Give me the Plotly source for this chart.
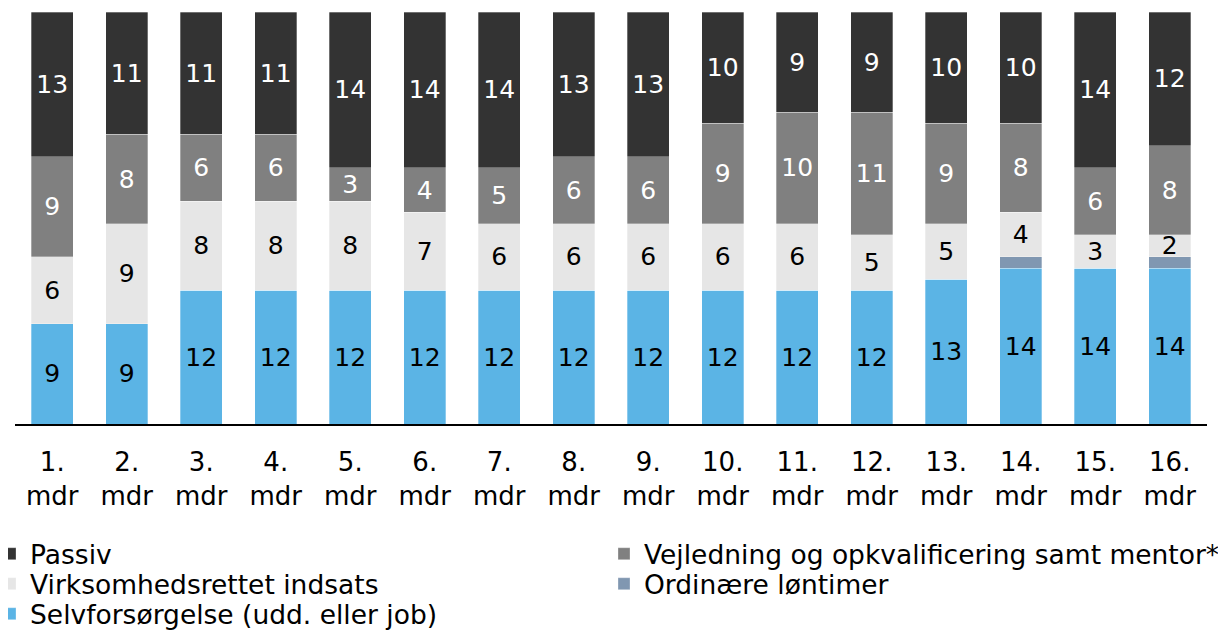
import plotly.graph_objects as go

categories = [f"{i}.<br>mdr" for i in range(1, 17)]
selvforsorgelse = [9, 9, 12, 12, 12, 12, 12, 12, 12, 12, 12, 12, 13, 14, 14, 14]
ordinaere = [0, 0, 0, 0, 0, 0, 0, 0, 0, 0, 0, 0, 0, 1, 0, 1]
virksomhed = [6, 9, 8, 8, 8, 7, 6, 6, 6, 6, 6, 5, 5, 4, 3, 2]
vejledning = [9, 8, 6, 6, 3, 4, 5, 6, 6, 9, 10, 11, 9, 8, 6, 8]
passiv = [13, 11, 11, 11, 14, 14, 14, 13, 13, 10, 9, 9, 10, 10, 14, 12]

FONT = "Verdana, DejaVu Sans, sans-serif"
FS = 26
LFS = 26.5

# name, values, colour, label colour, legend id, show labels
series = [
    ("Selvforsørgelse (udd. eller job)", selvforsorgelse, "#5bb4e5", "black", "legend5", True),
    ("Ordinære løntimer", ordinaere, "#8097b1", "black", "legend4", False),
    ("Virksomhedsrettet indsats", virksomhed, "#e6e6e6", "black", "legend3", True),
    ("Vejledning og opkvalificering samt mentor*", vejledning, "#808080", "white", "legend2", True),
    ("Passiv", passiv, "#333333", "white", "legend", True),
]

fig = go.Figure()
for name, vals, color, tcolor, leg, labelled in series:
    texts = [str(v) if (labelled and v > 0) else "" for v in vals]
    fig.add_trace(go.Bar(
        x=categories, y=vals, name=name,
        marker=dict(color=color, line=dict(color="rgba(255,255,255,0.6)", width=0.5)),
        text=texts, textposition="inside", insidetextanchor="middle",
        textfont=dict(color=tcolor, size=25, family=FONT),
        constraintext="none", textangle=0,
        legend=leg, hoverinfo="skip",
    ))

def leg(x, ypx):
    return dict(x=x, xanchor="left", y=(424 - ypx) / 412, yanchor="middle",
                orientation="v", font=dict(size=LFS, family=FONT, color="black"),
                bgcolor="rgba(0,0,0,0)", borderwidth=0)

left_x = -25 / 1192
right_x = 589 / 1192

fig.update_layout(
    width=1226, height=630,
    barmode="stack", bargap=0.44,
    paper_bgcolor="white", plot_bgcolor="white",
    margin=dict(l=7, r=27, t=4, b=214, autoexpand=False),
    font=dict(family=FONT, size=FS, color="black"),
    showlegend=True,
    legend=leg(left_x, 554),
    legend3=leg(left_x, 584),
    legend5=leg(left_x, 614),
    legend2=leg(right_x, 554),
    legend4=leg(right_x, 584),
    uniformtext=dict(mode=False),
)
fig.update_xaxes(showline=True, linecolor="black", linewidth=1.5, ticks="",
                 tickfont=dict(size=FS, family=FONT, color="black"),
                 ticklabelstandoff=14, showgrid=False, automargin=False)
fig.update_yaxes(visible=False, range=[0, 37], showgrid=False, automargin=False)

fig.write_html("out.html")
